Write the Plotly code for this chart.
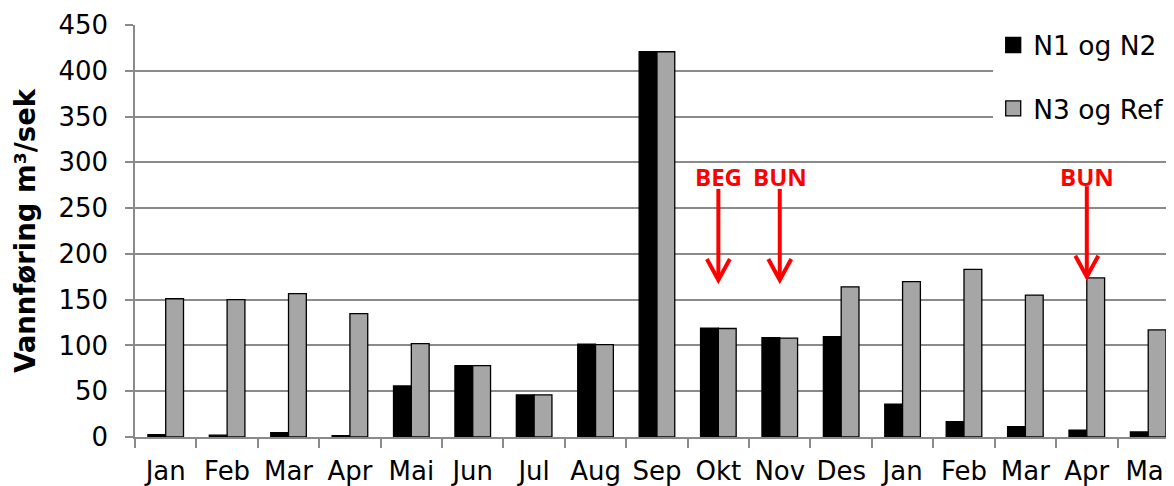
import plotly.graph_objects as go

months = ["Jan", "Feb", "Mar", "Apr", "Mai", "Jun", "Jul", "Aug", "Sep", "Okt",
          "Nov", "Des", "Jan", "Feb", "Mar", "Apr", "Mai"]
n1_n2 = [2.5, 2, 4.7, 1.5, 55.7, 78, 46, 101.5, 420.8, 119, 108.5, 109.5, 36, 16.7, 11.3, 7.6, 5.5]
n3_ref = [151, 150, 156.5, 134.7, 102, 78, 46, 101, 420.8, 118.5, 108, 164, 169.6, 183, 155, 173.7, 117]
y_ticks = [0, 50, 100, 150, 200, 250, 300, 350, 400, 450]
series_names = ["N1 og N2", "N3 og Ref"]
series_colors = ["#000000", "#A6A6A6"]

arrow_idx = [9, 10, 15]
arrow_labels = ["BEG", "BUN", "BUN"]
arrow_tip = [171.5, 171.5, 175]
arrow_tail = [271, 271, 274]
arrow_text_y = [284, 284, 284]

idx = list(range(len(months)))
GRID = "#8a8a8a"
FONT = "DejaVu Sans"

fig = go.Figure()
for name, vals, col, grp in zip(series_names, [n1_n2, n3_ref], series_colors, ["a", "b"]):
    fig.add_trace(go.Bar(x=idx, y=vals, name=name, showlegend=False, legendgroup=grp,
                         marker=dict(color=col, line=dict(color="#000000", width=1.3))))
# legend entries with larger square swatches
for name, col, grp in zip(series_names, series_colors, ["a", "b"]):
    fig.add_trace(go.Scatter(x=[None], y=[None], name=name, mode="markers", legendgroup=grp,
                             marker=dict(symbol="square", size=15, color=col,
                                         line=dict(color="#000000", width=1.3))))
fig.add_trace(go.Scatter(x=[0], y=[0], xaxis="x2", mode="markers", marker=dict(opacity=0),
                         showlegend=False, hoverinfo="skip"))

shapes = []
annotations = []
for i, lab, tip, tail, ty in zip(arrow_idx, arrow_labels, arrow_tip, arrow_tail, arrow_text_y):
    shapes.append(dict(type="line", xref="x", yref="y", x0=i, x1=i, y0=tail, y1=tip + 1,
                       line=dict(color="#FF0000", width=4)))
    shapes.append(dict(type="path", xref="x", yref="y", xsizemode="pixel", ysizemode="pixel",
                       xanchor=i, yanchor=tip, path="M -11.5,21 L 0,0 L 11.5,21",
                       line=dict(color="#FF0000", width=4)))
    annotations.append(dict(x=i, y=ty, xref="x", yref="y", text="<b>%s</b>" % lab, showarrow=False,
                            font=dict(family="Open Sans", size=24, color="#FF0000")))

n = len(months)
# page body has an 8px margin, so the figure is sized to fill the rest of the window
fig.update_layout(
    width=1166, height=478,
    margin=dict(l=127, r=0, t=17, b=49, pad=0, autoexpand=False),
    plot_bgcolor="white", paper_bgcolor="white",
    barmode="group", bargap=0.42, bargroupgap=0,
    font=dict(family=FONT, size=26, color="black"),
    xaxis=dict(range=[-0.5, 16.42], tickvals=[i - 0.5 for i in range(n + 1)], ticktext=[""] * (n + 1),
               ticks="outside", ticklen=9, tickcolor=GRID, tickwidth=1.5,
               showline=True, linecolor=GRID, linewidth=1.5, showgrid=False, zeroline=False),
    xaxis2=dict(overlaying="x", matches="x", anchor="y", side="bottom", tickvals=idx, ticktext=months,
                ticks="outside", ticklen=11, tickcolor="rgba(0,0,0,0)", showline=False, showgrid=False,
                zeroline=False, tickfont=dict(size=26, color="black")),
    yaxis=dict(range=[0, 450], tickvals=y_ticks, showgrid=True, gridcolor=GRID, gridwidth=1.5,
               showline=True, linecolor=GRID, linewidth=1.5, ticks="outside", ticklen=8, tickcolor=GRID,
               tickwidth=1.5, zeroline=False, tickfont=dict(size=26, color="black"),
               ticklabelstandoff=12,
               title=dict(text="<b>Vannføring m³/sek</b>", font=dict(size=27.5, color="black"), standoff=15)),
    legend=dict(x=0.826, y=1.009, xanchor="left", yanchor="top", bgcolor="white", borderwidth=0,
                font=dict(size=26.5, color="black"), tracegroupgap=26, itemwidth=30),
    shapes=shapes, annotations=annotations,
)

fig.write_html("out.html")
